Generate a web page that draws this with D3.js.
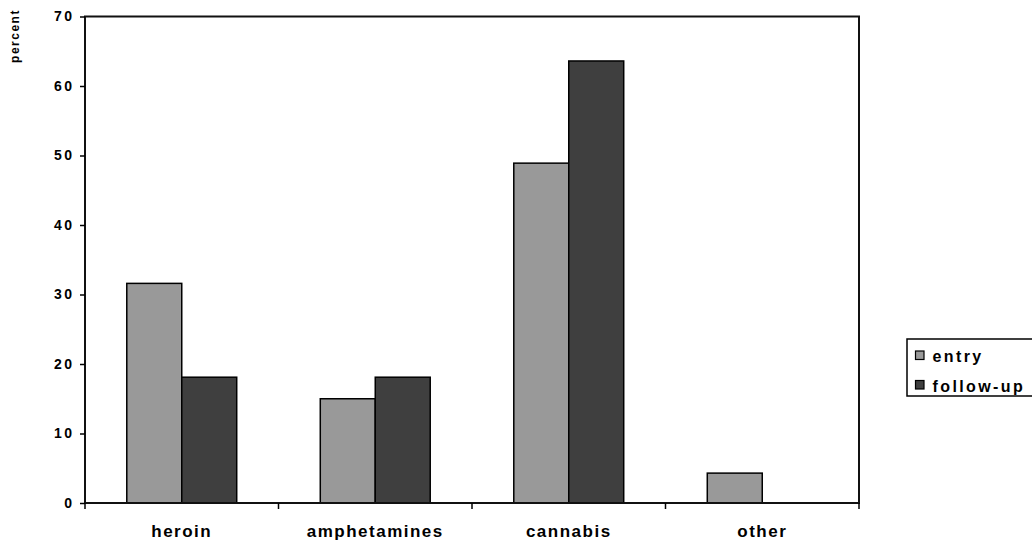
<!DOCTYPE html>
<html><head><meta charset="utf-8">
<script src="https://cdn.jsdelivr.net/npm/d3@7"></script>
<style>
html,body{margin:0;padding:0;background:#fff;}
svg{display:block;font-family:"Liberation Sans",Arial,sans-serif;font-weight:bold;}
</style></head>
<body>
<svg id="chart" width="1032" height="542"></svg>
<script>
const categories = ["heroin", "amphetamines", "cannabis", "other"];
const seriesNames = ["entry", "follow-up"];
const entryValues = [31.6, 15.0, 48.9, 4.3];
const followUpValues = [18.1, 18.1, 63.6, 0];
const yTicks = [0, 10, 20, 30, 40, 50, 60, 70];
const colors = ["#999999", "#3f3f3f"];

const svg = d3.select("#chart");
const m = {left: 85, top: 16.5, right: 859, bottom: 503};

const x0 = d3.scaleBand().domain(categories).range([m.left, m.right]).padding(0);
const x1 = d3.scaleBand().domain(seriesNames).range([0, x0.bandwidth()]).paddingInner(0).paddingOuter(0.76);
const y = d3.scaleLinear().domain([0, 70]).range([m.bottom, m.top]);

const table = categories.map((c, i) => ({cat: c, vals: [entryValues[i], followUpValues[i]]}));

// bars
const g = svg.append("g");
table.forEach(row => {
  row.vals.forEach((v, j) => {
    if (v <= 0) return;
    g.append("rect")
      .attr("x", x0(row.cat) + x1(seriesNames[j]))
      .attr("y", y(v))
      .attr("width", x1.bandwidth())
      .attr("height", y(0) - y(v))
      .attr("fill", colors[j])
      .attr("stroke", "#000")
      .attr("stroke-width", 1.5);
  });
});

// plot border
svg.append("rect")
  .attr("x", m.left).attr("y", m.top)
  .attr("width", m.right - m.left).attr("height", m.bottom - m.top)
  .attr("fill", "none").attr("stroke", "#111").attr("stroke-width", 2);

// y axis
const yAxis = d3.axisLeft(y).tickValues(yTicks).tickSize(5).tickPadding(5.5);
const ya = svg.append("g").attr("transform", `translate(${m.left},0)`).call(yAxis);
ya.select(".domain").remove();
ya.selectAll(".tick line").attr("stroke", "#000").attr("stroke-width", 1.5);
ya.selectAll(".tick text").attr("fill", "#000").style("font-size", "14px").style("letter-spacing", "2.5px")
  .style("font-family", "'Liberation Sans',Arial,sans-serif").style("font-weight", "bold");

// x axis
const xAxis = d3.axisBottom(x0).tickSize(0).tickPadding(22);
const xa = svg.append("g").attr("transform", `translate(0,${m.bottom})`).call(xAxis);
xa.select(".domain").remove();
xa.selectAll(".tick text").attr("fill", "#000").style("font-size", "17px").style("letter-spacing", "1.5px")
  .style("font-family", "'Liberation Sans',Arial,sans-serif").style("font-weight", "bold");
// boundary ticks
const bounds = categories.map(c => x0(c)).concat([x0(categories[categories.length - 1]) + x0.bandwidth()]);
svg.append("g").selectAll("line").data(bounds).join("line")
  .attr("x1", d => d).attr("x2", d => d)
  .attr("y1", m.bottom).attr("y2", m.bottom + 6)
  .attr("stroke", "#000").attr("stroke-width", 1.5);

// y title
svg.append("text")
  .attr("transform", "translate(18.5,36) rotate(-90)")
  .attr("text-anchor", "middle")
  .style("font-size", "12px").style("letter-spacing", "1.5px")
  .text("percent");

// legend
const lg = svg.append("g");
lg.append("rect").attr("x", 907).attr("y", 339).attr("width", 140).attr("height", 57)
  .attr("fill", "#fff").attr("stroke", "#000").attr("stroke-width", 1.5);
seriesNames.forEach((s, i) => {
  lg.append("rect").attr("x", 915.5).attr("y", 351 + i * 29.5).attr("width", 8.5).attr("height", 8.5)
    .attr("fill", colors[i]).attr("stroke", "#000").attr("stroke-width", 1.2);
  lg.append("text").attr("x", 932.5).attr("y", 362 + i * 29.5)
    .style("font-size", "16px").style("letter-spacing", "2.4px")
    .text(s);
});
</script>
</body></html>
